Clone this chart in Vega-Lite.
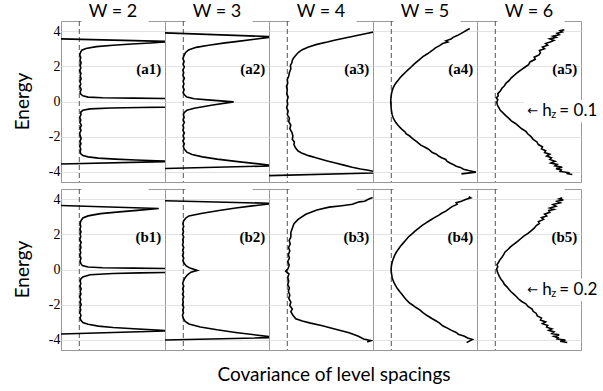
{
"$schema": "https://vega.github.io/schema/vega-lite/v6.json",
"background": "white",
"bounds": "flush",
"padding": {"left": 14, "top": 3, "right": 0, "bottom": 0},
"data": {"values": [
{"W":2,"h":0.1,"C":-0.5,"E":-3.57},{"W":2,"h":0.1,"C":5.3,"E":-3.41},{"W":2,"h":0.1,"C":4.6,"E":-3.37},{"W":2,"h":0.1,"C":3.6,"E":-3.33},{"W":2,"h":0.1,"C":2.6,"E":-3.28},{"W":2,"h":0.1,"C":1.8,"E":-3.22},{"W":2,"h":0.1,"C":1.3,"E":-3.15},{"W":2,"h":0.1,"C":1.05,"E":-3.07},{"W":2,"h":0.1,"C":0.95,"E":-2.98},{"W":2,"h":0.1,"C":0.92,"E":-2.85},{"W":2,"h":0.1,"C":0.95,"E":-2.7},{"W":2,"h":0.1,"C":0.9,"E":-2.55},{"W":2,"h":0.1,"C":0.96,"E":-2.4},{"W":2,"h":0.1,"C":0.91,"E":-2.25},{"W":2,"h":0.1,"C":0.97,"E":-2.1},{"W":2,"h":0.1,"C":0.92,"E":-1.95},{"W":2,"h":0.1,"C":0.9,"E":-1.8},{"W":2,"h":0.1,"C":0.96,"E":-1.65},{"W":2,"h":0.1,"C":0.92,"E":-1.5},{"W":2,"h":0.1,"C":0.98,"E":-1.35},{"W":2,"h":0.1,"C":0.91,"E":-1.2},{"W":2,"h":0.1,"C":0.95,"E":-1.05},{"W":2,"h":0.1,"C":0.9,"E":-0.9},{"W":2,"h":0.1,"C":0.96,"E":-0.75},{"W":2,"h":0.1,"C":0.95,"E":-0.6},{"W":2,"h":0.1,"C":1.05,"E":-0.5},{"W":2,"h":0.1,"C":1.4,"E":-0.42},{"W":2,"h":0.1,"C":2.4,"E":-0.37},{"W":2,"h":0.1,"C":3.8,"E":-0.34},{"W":2,"h":0.1,"C":5.0,"E":-0.32},{"W":2,"h":0.1,"C":9,"E":-0.1},{"W":2,"h":0.1,"C":5.0,"E":0.17},{"W":2,"h":0.1,"C":3.5,"E":0.19},{"W":2,"h":0.1,"C":2.0,"E":0.21},{"W":2,"h":0.1,"C":1.3,"E":0.25},{"W":2,"h":0.1,"C":1.05,"E":0.32},{"W":2,"h":0.1,"C":0.95,"E":0.42},{"W":2,"h":0.1,"C":0.92,"E":0.55},{"W":2,"h":0.1,"C":0.97,"E":0.7},{"W":2,"h":0.1,"C":0.9,"E":0.85},{"W":2,"h":0.1,"C":0.95,"E":1.0},{"W":2,"h":0.1,"C":0.91,"E":1.15},{"W":2,"h":0.1,"C":0.97,"E":1.3},{"W":2,"h":0.1,"C":0.92,"E":1.45},{"W":2,"h":0.1,"C":0.96,"E":1.6},{"W":2,"h":0.1,"C":0.9,"E":1.75},{"W":2,"h":0.1,"C":0.95,"E":1.9},{"W":2,"h":0.1,"C":0.92,"E":2.05},{"W":2,"h":0.1,"C":0.97,"E":2.2},{"W":2,"h":0.1,"C":0.91,"E":2.35},{"W":2,"h":0.1,"C":0.95,"E":2.5},{"W":2,"h":0.1,"C":0.9,"E":2.65},{"W":2,"h":0.1,"C":0.94,"E":2.8},{"W":2,"h":0.1,"C":1.0,"E":2.92},{"W":2,"h":0.1,"C":1.2,"E":3.02},{"W":2,"h":0.1,"C":1.7,"E":3.12},{"W":2,"h":0.1,"C":2.5,"E":3.2},{"W":2,"h":0.1,"C":3.4,"E":3.27},{"W":2,"h":0.1,"C":4.3,"E":3.33},{"W":2,"h":0.1,"C":5.3,"E":3.41},{"W":2,"h":0.1,"C":-0.5,"E":3.58},
{"W":3,"h":0.1,"C":-0.4,"E":-3.82},{"W":3,"h":0.1,"C":5.3,"E":-3.66},{"W":3,"h":0.1,"C":4.5,"E":-3.55},{"W":3,"h":0.1,"C":3.5,"E":-3.42},{"W":3,"h":0.1,"C":2.5,"E":-3.28},{"W":3,"h":0.1,"C":1.8,"E":-3.15},{"W":3,"h":0.1,"C":1.3,"E":-3.02},{"W":3,"h":0.1,"C":1.05,"E":-2.88},{"W":3,"h":0.1,"C":0.92,"E":-2.7},{"W":3,"h":0.1,"C":0.88,"E":-2.55},{"W":3,"h":0.1,"C":0.93,"E":-2.4},{"W":3,"h":0.1,"C":0.86,"E":-2.25},{"W":3,"h":0.1,"C":0.92,"E":-2.1},{"W":3,"h":0.1,"C":0.87,"E":-1.95},{"W":3,"h":0.1,"C":0.93,"E":-1.8},{"W":3,"h":0.1,"C":0.86,"E":-1.65},{"W":3,"h":0.1,"C":0.9,"E":-1.5},{"W":3,"h":0.1,"C":0.86,"E":-1.35},{"W":3,"h":0.1,"C":0.93,"E":-1.2},{"W":3,"h":0.1,"C":0.87,"E":-1.05},{"W":3,"h":0.1,"C":0.92,"E":-0.9},{"W":3,"h":0.1,"C":0.88,"E":-0.75},{"W":3,"h":0.1,"C":0.93,"E":-0.62},{"W":3,"h":0.1,"C":1.05,"E":-0.5},{"W":3,"h":0.1,"C":1.4,"E":-0.38},{"W":3,"h":0.1,"C":2.3,"E":-0.2},{"W":3,"h":0.1,"C":3.3,"E":-0.02},{"W":3,"h":0.1,"C":2.2,"E":0.08},{"W":3,"h":0.1,"C":1.4,"E":0.16},{"W":3,"h":0.1,"C":1.05,"E":0.25},{"W":3,"h":0.1,"C":0.93,"E":0.38},{"W":3,"h":0.1,"C":0.87,"E":0.52},{"W":3,"h":0.1,"C":0.92,"E":0.68},{"W":3,"h":0.1,"C":0.86,"E":0.84},{"W":3,"h":0.1,"C":0.91,"E":1.0},{"W":3,"h":0.1,"C":0.87,"E":1.16},{"W":3,"h":0.1,"C":0.93,"E":1.32},{"W":3,"h":0.1,"C":0.86,"E":1.48},{"W":3,"h":0.1,"C":0.9,"E":1.64},{"W":3,"h":0.1,"C":0.86,"E":1.8},{"W":3,"h":0.1,"C":0.93,"E":1.96},{"W":3,"h":0.1,"C":0.87,"E":2.12},{"W":3,"h":0.1,"C":0.92,"E":2.28},{"W":3,"h":0.1,"C":0.86,"E":2.44},{"W":3,"h":0.1,"C":0.91,"E":2.6},{"W":3,"h":0.1,"C":0.98,"E":2.78},{"W":3,"h":0.1,"C":1.13,"E":2.93},{"W":3,"h":0.1,"C":1.5,"E":3.08},{"W":3,"h":0.1,"C":2.1,"E":3.2},{"W":3,"h":0.1,"C":2.8,"E":3.32},{"W":3,"h":0.1,"C":3.5,"E":3.42},{"W":3,"h":0.1,"C":4.3,"E":3.54},{"W":3,"h":0.1,"C":5.0,"E":3.65},{"W":3,"h":0.1,"C":5.3,"E":3.68},{"W":3,"h":0.1,"C":-0.4,"E":3.92},
{"W":4,"h":0.1,"C":-0.4,"E":-4.23},{"W":4,"h":0.1,"C":5.3,"E":-4.06},{"W":4,"h":0.1,"C":4.95,"E":-3.95},{"W":4,"h":0.1,"C":4.7,"E":-3.9},{"W":4,"h":0.1,"C":4.4,"E":-3.84},{"W":4,"h":0.1,"C":4.0,"E":-3.74},{"W":4,"h":0.1,"C":3.6,"E":-3.62},{"W":4,"h":0.1,"C":3.2,"E":-3.5},{"W":4,"h":0.1,"C":2.8,"E":-3.38},{"W":4,"h":0.1,"C":2.3,"E":-3.22},{"W":4,"h":0.1,"C":1.9,"E":-3.08},{"W":4,"h":0.1,"C":1.6,"E":-2.95},{"W":4,"h":0.1,"C":1.4,"E":-2.82},{"W":4,"h":0.1,"C":1.28,"E":-2.65},{"W":4,"h":0.1,"C":1.2,"E":-2.45},{"W":4,"h":0.1,"C":1.22,"E":-2.3},{"W":4,"h":0.1,"C":1.12,"E":-2.15},{"W":4,"h":0.1,"C":1.15,"E":-1.95},{"W":4,"h":0.1,"C":1.1,"E":-1.75},{"W":4,"h":0.1,"C":1.0,"E":-1.55},{"W":4,"h":0.1,"C":1.05,"E":-1.35},{"W":4,"h":0.1,"C":0.95,"E":-1.15},{"W":4,"h":0.1,"C":0.98,"E":-0.95},{"W":4,"h":0.1,"C":0.88,"E":-0.75},{"W":4,"h":0.1,"C":0.92,"E":-0.55},{"W":4,"h":0.1,"C":0.85,"E":-0.35},{"W":4,"h":0.1,"C":0.9,"E":-0.15},{"W":4,"h":0.1,"C":0.87,"E":0.05},{"W":4,"h":0.1,"C":0.92,"E":0.25},{"W":4,"h":0.1,"C":0.85,"E":0.45},{"W":4,"h":0.1,"C":0.88,"E":0.65},{"W":4,"h":0.1,"C":0.84,"E":0.85},{"W":4,"h":0.1,"C":0.9,"E":1.05},{"W":4,"h":0.1,"C":0.88,"E":1.25},{"W":4,"h":0.1,"C":0.95,"E":1.45},{"W":4,"h":0.1,"C":0.98,"E":1.65},{"W":4,"h":0.1,"C":1.05,"E":1.85},{"W":4,"h":0.1,"C":1.03,"E":2.05},{"W":4,"h":0.1,"C":1.1,"E":2.2},{"W":4,"h":0.1,"C":1.12,"E":2.35},{"W":4,"h":0.1,"C":1.2,"E":2.5},{"W":4,"h":0.1,"C":1.3,"E":2.65},{"W":4,"h":0.1,"C":1.42,"E":2.8},{"W":4,"h":0.1,"C":1.6,"E":2.95},{"W":4,"h":0.1,"C":1.9,"E":3.1},{"W":4,"h":0.1,"C":2.3,"E":3.25},{"W":4,"h":0.1,"C":2.8,"E":3.38},{"W":4,"h":0.1,"C":3.2,"E":3.5},{"W":4,"h":0.1,"C":3.6,"E":3.6},{"W":4,"h":0.1,"C":4.0,"E":3.7},{"W":4,"h":0.1,"C":4.4,"E":3.8},{"W":4,"h":0.1,"C":4.8,"E":3.9},{"W":4,"h":0.1,"C":5.0,"E":3.95},
{"W":5,"h":0.1,"C":4.25,"E":-4.12},{"W":5,"h":0.1,"C":4.95,"E":-4.02},{"W":5,"h":0.1,"C":4.6,"E":-3.93},{"W":5,"h":0.1,"C":4.35,"E":-3.85},{"W":5,"h":0.1,"C":4.2,"E":-3.75},{"W":5,"h":0.1,"C":4.0,"E":-3.68},{"W":5,"h":0.1,"C":3.85,"E":-3.58},{"W":5,"h":0.1,"C":3.7,"E":-3.5},{"W":5,"h":0.1,"C":3.55,"E":-3.4},{"W":5,"h":0.1,"C":3.5,"E":-3.3},{"W":5,"h":0.1,"C":3.3,"E":-3.2},{"W":5,"h":0.1,"C":3.15,"E":-3.1},{"W":5,"h":0.1,"C":3.05,"E":-3.0},{"W":5,"h":0.1,"C":2.85,"E":-2.9},{"W":5,"h":0.1,"C":2.75,"E":-2.8},{"W":5,"h":0.1,"C":2.65,"E":-2.7},{"W":5,"h":0.1,"C":2.5,"E":-2.6},{"W":5,"h":0.1,"C":2.3,"E":-2.48},{"W":5,"h":0.1,"C":2.2,"E":-2.38},{"W":5,"h":0.1,"C":2.1,"E":-2.28},{"W":5,"h":0.1,"C":1.95,"E":-2.15},{"W":5,"h":0.1,"C":1.85,"E":-2.05},{"W":5,"h":0.1,"C":1.75,"E":-1.95},{"W":5,"h":0.1,"C":1.6,"E":-1.85},{"W":5,"h":0.1,"C":1.55,"E":-1.75},{"W":5,"h":0.1,"C":1.42,"E":-1.62},{"W":5,"h":0.1,"C":1.32,"E":-1.5},{"W":5,"h":0.1,"C":1.2,"E":-1.35},{"W":5,"h":0.1,"C":1.1,"E":-1.2},{"W":5,"h":0.1,"C":1.02,"E":-1.05},{"W":5,"h":0.1,"C":0.96,"E":-0.9},{"W":5,"h":0.1,"C":0.92,"E":-0.75},{"W":5,"h":0.1,"C":0.9,"E":-0.6},{"W":5,"h":0.1,"C":0.88,"E":-0.45},{"W":5,"h":0.1,"C":0.87,"E":-0.3},{"W":5,"h":0.1,"C":0.86,"E":-0.15},{"W":5,"h":0.1,"C":0.85,"E":0.0},{"W":5,"h":0.1,"C":0.86,"E":0.15},{"W":5,"h":0.1,"C":0.87,"E":0.3},{"W":5,"h":0.1,"C":0.89,"E":0.45},{"W":5,"h":0.1,"C":0.92,"E":0.6},{"W":5,"h":0.1,"C":0.96,"E":0.75},{"W":5,"h":0.1,"C":1.02,"E":0.9},{"W":5,"h":0.1,"C":1.1,"E":1.05},{"W":5,"h":0.1,"C":1.2,"E":1.2},{"W":5,"h":0.1,"C":1.3,"E":1.35},{"W":5,"h":0.1,"C":1.42,"E":1.5},{"W":5,"h":0.1,"C":1.55,"E":1.65},{"W":5,"h":0.1,"C":1.68,"E":1.8},{"W":5,"h":0.1,"C":1.82,"E":1.95},{"W":5,"h":0.1,"C":1.95,"E":2.1},{"W":5,"h":0.1,"C":2.1,"E":2.25},{"W":5,"h":0.1,"C":2.25,"E":2.4},{"W":5,"h":0.1,"C":2.4,"E":2.55},{"W":5,"h":0.1,"C":2.6,"E":2.7},{"W":5,"h":0.1,"C":2.75,"E":2.82},{"W":5,"h":0.1,"C":2.9,"E":2.95},{"W":5,"h":0.1,"C":3.0,"E":3.05},{"W":5,"h":0.1,"C":3.2,"E":3.18},{"W":5,"h":0.1,"C":3.35,"E":3.3},{"W":5,"h":0.1,"C":3.6,"E":3.38},{"W":5,"h":0.1,"C":3.5,"E":3.45},{"W":5,"h":0.1,"C":3.75,"E":3.55},{"W":5,"h":0.1,"C":3.85,"E":3.65},{"W":5,"h":0.1,"C":4.05,"E":3.75},{"W":5,"h":0.1,"C":4.2,"E":3.85},{"W":5,"h":0.1,"C":4.35,"E":3.95},{"W":5,"h":0.1,"C":4.5,"E":4.05},{"W":5,"h":0.1,"C":4.65,"E":4.15},
{"W":6,"h":0.1,"C":4.58,"E":-4.15},{"W":6,"h":0.1,"C":4.3,"E":-4.1},{"W":6,"h":0.1,"C":4.45,"E":-4.05},{"W":6,"h":0.1,"C":4.0,"E":-3.98},{"W":6,"h":0.1,"C":4.05,"E":-3.9},{"W":6,"h":0.1,"C":3.8,"E":-3.82},{"W":6,"h":0.1,"C":4.1,"E":-3.74},{"W":6,"h":0.1,"C":3.75,"E":-3.66},{"W":6,"h":0.1,"C":3.85,"E":-3.58},{"W":6,"h":0.1,"C":3.55,"E":-3.5},{"W":6,"h":0.1,"C":3.75,"E":-3.4},{"W":6,"h":0.1,"C":3.5,"E":-3.3},{"W":6,"h":0.1,"C":3.58,"E":-3.2},{"W":6,"h":0.1,"C":3.35,"E":-3.1},{"W":6,"h":0.1,"C":3.5,"E":-3.0},{"W":6,"h":0.1,"C":3.25,"E":-2.9},{"W":6,"h":0.1,"C":3.3,"E":-2.8},{"W":6,"h":0.1,"C":3.1,"E":-2.7},{"W":6,"h":0.1,"C":3.15,"E":-2.58},{"W":6,"h":0.1,"C":2.95,"E":-2.45},{"W":6,"h":0.1,"C":2.88,"E":-2.3},{"W":6,"h":0.1,"C":2.7,"E":-2.15},{"W":6,"h":0.1,"C":2.6,"E":-2.0},{"W":6,"h":0.1,"C":2.45,"E":-1.85},{"W":6,"h":0.1,"C":2.35,"E":-1.7},{"W":6,"h":0.1,"C":2.15,"E":-1.55},{"W":6,"h":0.1,"C":2.0,"E":-1.4},{"W":6,"h":0.1,"C":1.85,"E":-1.25},{"W":6,"h":0.1,"C":1.65,"E":-1.1},{"W":6,"h":0.1,"C":1.52,"E":-0.95},{"W":6,"h":0.1,"C":1.38,"E":-0.8},{"W":6,"h":0.1,"C":1.25,"E":-0.65},{"W":6,"h":0.1,"C":1.12,"E":-0.5},{"W":6,"h":0.1,"C":1.05,"E":-0.35},{"W":6,"h":0.1,"C":0.98,"E":-0.2},{"W":6,"h":0.1,"C":0.95,"E":-0.05},{"W":6,"h":0.1,"C":1.0,"E":0.1},{"W":6,"h":0.1,"C":0.93,"E":0.2},{"W":6,"h":0.1,"C":1.02,"E":0.32},{"W":6,"h":0.1,"C":1.0,"E":0.45},{"W":6,"h":0.1,"C":1.12,"E":0.6},{"W":6,"h":0.1,"C":1.2,"E":0.75},{"W":6,"h":0.1,"C":1.32,"E":0.9},{"W":6,"h":0.1,"C":1.4,"E":1.05},{"W":6,"h":0.1,"C":1.55,"E":1.2},{"W":6,"h":0.1,"C":1.65,"E":1.35},{"W":6,"h":0.1,"C":1.8,"E":1.5},{"W":6,"h":0.1,"C":1.95,"E":1.65},{"W":6,"h":0.1,"C":2.12,"E":1.8},{"W":6,"h":0.1,"C":2.3,"E":1.95},{"W":6,"h":0.1,"C":2.48,"E":2.1},{"W":6,"h":0.1,"C":2.55,"E":2.25},{"W":6,"h":0.1,"C":2.8,"E":2.4},{"W":6,"h":0.1,"C":2.75,"E":2.52},{"W":6,"h":0.1,"C":2.98,"E":2.65},{"W":6,"h":0.1,"C":3.05,"E":2.78},{"W":6,"h":0.1,"C":3.0,"E":2.9},{"W":6,"h":0.1,"C":3.25,"E":3.0},{"W":6,"h":0.1,"C":3.15,"E":3.1},{"W":6,"h":0.1,"C":3.4,"E":3.2},{"W":6,"h":0.1,"C":3.3,"E":3.3},{"W":6,"h":0.1,"C":3.55,"E":3.4},{"W":6,"h":0.1,"C":3.7,"E":3.48},{"W":6,"h":0.1,"C":3.5,"E":3.56},{"W":6,"h":0.1,"C":3.8,"E":3.65},{"W":6,"h":0.1,"C":3.65,"E":3.72},{"W":6,"h":0.1,"C":3.95,"E":3.8},{"W":6,"h":0.1,"C":3.85,"E":3.88},{"W":6,"h":0.1,"C":4.1,"E":3.96},{"W":6,"h":0.1,"C":4.0,"E":4.03},{"W":6,"h":0.1,"C":4.2,"E":4.08},
{"W":2,"h":0.2,"C":-0.4,"E":-3.68},{"W":2,"h":0.2,"C":5.3,"E":-3.49},{"W":2,"h":0.2,"C":4.6,"E":-3.45},{"W":2,"h":0.2,"C":3.5,"E":-3.37},{"W":2,"h":0.2,"C":2.5,"E":-3.3},{"W":2,"h":0.2,"C":1.8,"E":-3.22},{"W":2,"h":0.2,"C":1.3,"E":-3.12},{"W":2,"h":0.2,"C":1.05,"E":-3.02},{"W":2,"h":0.2,"C":0.95,"E":-2.88},{"W":2,"h":0.2,"C":0.92,"E":-2.75},{"W":2,"h":0.2,"C":0.96,"E":-2.6},{"W":2,"h":0.2,"C":0.9,"E":-2.45},{"W":2,"h":0.2,"C":0.95,"E":-2.3},{"W":2,"h":0.2,"C":0.91,"E":-2.15},{"W":2,"h":0.2,"C":0.97,"E":-2.0},{"W":2,"h":0.2,"C":0.92,"E":-1.85},{"W":2,"h":0.2,"C":0.95,"E":-1.7},{"W":2,"h":0.2,"C":0.9,"E":-1.55},{"W":2,"h":0.2,"C":0.96,"E":-1.4},{"W":2,"h":0.2,"C":0.92,"E":-1.25},{"W":2,"h":0.2,"C":0.97,"E":-1.1},{"W":2,"h":0.2,"C":0.91,"E":-0.95},{"W":2,"h":0.2,"C":0.95,"E":-0.8},{"W":2,"h":0.2,"C":0.92,"E":-0.65},{"W":2,"h":0.2,"C":0.96,"E":-0.53},{"W":2,"h":0.2,"C":1.05,"E":-0.42},{"W":2,"h":0.2,"C":1.4,"E":-0.3},{"W":2,"h":0.2,"C":2.5,"E":-0.23},{"W":2,"h":0.2,"C":3.8,"E":-0.19},{"W":2,"h":0.2,"C":5.0,"E":-0.17},{"W":2,"h":0.2,"C":9,"E":-0.05},{"W":2,"h":0.2,"C":5.0,"E":0.06},{"W":2,"h":0.2,"C":3.5,"E":0.08},{"W":2,"h":0.2,"C":2.0,"E":0.1},{"W":2,"h":0.2,"C":1.3,"E":0.14},{"W":2,"h":0.2,"C":1.03,"E":0.22},{"W":2,"h":0.2,"C":0.95,"E":0.35},{"W":2,"h":0.2,"C":0.92,"E":0.5},{"W":2,"h":0.2,"C":0.96,"E":0.65},{"W":2,"h":0.2,"C":0.9,"E":0.8},{"W":2,"h":0.2,"C":0.95,"E":0.95},{"W":2,"h":0.2,"C":0.91,"E":1.1},{"W":2,"h":0.2,"C":0.96,"E":1.25},{"W":2,"h":0.2,"C":0.92,"E":1.4},{"W":2,"h":0.2,"C":0.97,"E":1.55},{"W":2,"h":0.2,"C":0.9,"E":1.7},{"W":2,"h":0.2,"C":0.95,"E":1.85},{"W":2,"h":0.2,"C":0.92,"E":2.0},{"W":2,"h":0.2,"C":0.96,"E":2.15},{"W":2,"h":0.2,"C":0.91,"E":2.3},{"W":2,"h":0.2,"C":0.95,"E":2.45},{"W":2,"h":0.2,"C":0.92,"E":2.6},{"W":2,"h":0.2,"C":0.95,"E":2.75},{"W":2,"h":0.2,"C":1.05,"E":2.93},{"W":2,"h":0.2,"C":1.3,"E":3.05},{"W":2,"h":0.2,"C":1.9,"E":3.18},{"W":2,"h":0.2,"C":2.8,"E":3.28},{"W":2,"h":0.2,"C":3.8,"E":3.38},{"W":2,"h":0.2,"C":4.7,"E":3.47},{"W":2,"h":0.2,"C":-0.4,"E":3.66},
{"W":3,"h":0.2,"C":-0.3,"E":-4.02},{"W":3,"h":0.2,"C":5.3,"E":-3.87},{"W":3,"h":0.2,"C":5.0,"E":-3.82},{"W":3,"h":0.2,"C":4.2,"E":-3.7},{"W":3,"h":0.2,"C":3.4,"E":-3.58},{"W":3,"h":0.2,"C":2.5,"E":-3.43},{"W":3,"h":0.2,"C":1.7,"E":-3.27},{"W":3,"h":0.2,"C":1.15,"E":-3.1},{"W":3,"h":0.2,"C":0.97,"E":-2.95},{"W":3,"h":0.2,"C":0.88,"E":-2.78},{"W":3,"h":0.2,"C":0.84,"E":-2.6},{"W":3,"h":0.2,"C":0.89,"E":-2.45},{"W":3,"h":0.2,"C":0.85,"E":-2.3},{"W":3,"h":0.2,"C":0.9,"E":-2.15},{"W":3,"h":0.2,"C":0.84,"E":-2.0},{"W":3,"h":0.2,"C":0.88,"E":-1.85},{"W":3,"h":0.2,"C":0.85,"E":-1.7},{"W":3,"h":0.2,"C":0.9,"E":-1.55},{"W":3,"h":0.2,"C":0.84,"E":-1.4},{"W":3,"h":0.2,"C":0.89,"E":-1.25},{"W":3,"h":0.2,"C":0.85,"E":-1.1},{"W":3,"h":0.2,"C":0.9,"E":-0.95},{"W":3,"h":0.2,"C":0.85,"E":-0.8},{"W":3,"h":0.2,"C":0.88,"E":-0.68},{"W":3,"h":0.2,"C":0.95,"E":-0.5},{"W":3,"h":0.2,"C":1.08,"E":-0.3},{"W":3,"h":0.2,"C":1.25,"E":-0.15},{"W":3,"h":0.2,"C":1.55,"E":-0.05},{"W":3,"h":0.2,"C":1.2,"E":0.08},{"W":3,"h":0.2,"C":1.02,"E":0.2},{"W":3,"h":0.2,"C":0.92,"E":0.35},{"W":3,"h":0.2,"C":0.86,"E":0.5},{"W":3,"h":0.2,"C":0.9,"E":0.65},{"W":3,"h":0.2,"C":0.84,"E":0.8},{"W":3,"h":0.2,"C":0.89,"E":0.95},{"W":3,"h":0.2,"C":0.85,"E":1.1},{"W":3,"h":0.2,"C":0.9,"E":1.25},{"W":3,"h":0.2,"C":0.84,"E":1.4},{"W":3,"h":0.2,"C":0.88,"E":1.55},{"W":3,"h":0.2,"C":0.85,"E":1.7},{"W":3,"h":0.2,"C":0.9,"E":1.85},{"W":3,"h":0.2,"C":0.84,"E":2.0},{"W":3,"h":0.2,"C":0.89,"E":2.15},{"W":3,"h":0.2,"C":0.85,"E":2.3},{"W":3,"h":0.2,"C":0.9,"E":2.45},{"W":3,"h":0.2,"C":0.86,"E":2.6},{"W":3,"h":0.2,"C":0.9,"E":2.78},{"W":3,"h":0.2,"C":1.0,"E":2.93},{"W":3,"h":0.2,"C":1.15,"E":3.05},{"W":3,"h":0.2,"C":1.8,"E":3.2},{"W":3,"h":0.2,"C":2.6,"E":3.36},{"W":3,"h":0.2,"C":3.4,"E":3.5},{"W":3,"h":0.2,"C":4.2,"E":3.62},{"W":3,"h":0.2,"C":5.0,"E":3.73},{"W":3,"h":0.2,"C":5.3,"E":3.76},{"W":3,"h":0.2,"C":-0.3,"E":3.92},
{"W":4,"h":0.2,"C":4.72,"E":-4.12},{"W":4,"h":0.2,"C":4.9,"E":-4.05},{"W":4,"h":0.2,"C":4.55,"E":-3.95},{"W":4,"h":0.2,"C":4.3,"E":-3.8},{"W":4,"h":0.2,"C":3.85,"E":-3.6},{"W":4,"h":0.2,"C":3.2,"E":-3.4},{"W":4,"h":0.2,"C":2.57,"E":-3.2},{"W":4,"h":0.2,"C":2.0,"E":-3.05},{"W":4,"h":0.2,"C":1.6,"E":-2.93},{"W":4,"h":0.2,"C":1.29,"E":-2.8},{"W":4,"h":0.2,"C":1.15,"E":-2.6},{"W":4,"h":0.2,"C":1.05,"E":-2.4},{"W":4,"h":0.2,"C":1.12,"E":-2.25},{"W":4,"h":0.2,"C":1.0,"E":-2.05},{"W":4,"h":0.2,"C":1.05,"E":-1.85},{"W":4,"h":0.2,"C":0.95,"E":-1.65},{"W":4,"h":0.2,"C":1.0,"E":-1.45},{"W":4,"h":0.2,"C":0.93,"E":-1.25},{"W":4,"h":0.2,"C":0.98,"E":-1.05},{"W":4,"h":0.2,"C":0.9,"E":-0.85},{"W":4,"h":0.2,"C":0.95,"E":-0.65},{"W":4,"h":0.2,"C":0.9,"E":-0.45},{"W":4,"h":0.2,"C":0.96,"E":-0.25},{"W":4,"h":0.2,"C":0.8,"E":-0.1},{"W":4,"h":0.2,"C":0.92,"E":0.05},{"W":4,"h":0.2,"C":0.97,"E":0.25},{"W":4,"h":0.2,"C":0.9,"E":0.45},{"W":4,"h":0.2,"C":0.98,"E":0.65},{"W":4,"h":0.2,"C":0.93,"E":0.85},{"W":4,"h":0.2,"C":1.0,"E":1.05},{"W":4,"h":0.2,"C":0.94,"E":1.25},{"W":4,"h":0.2,"C":1.02,"E":1.45},{"W":4,"h":0.2,"C":0.97,"E":1.65},{"W":4,"h":0.2,"C":1.05,"E":1.85},{"W":4,"h":0.2,"C":1.05,"E":2.1},{"W":4,"h":0.2,"C":1.12,"E":2.35},{"W":4,"h":0.2,"C":1.2,"E":2.6},{"W":4,"h":0.2,"C":1.4,"E":2.85},{"W":4,"h":0.2,"C":1.77,"E":3.14},{"W":4,"h":0.2,"C":2.3,"E":3.38},{"W":4,"h":0.2,"C":2.89,"E":3.55},{"W":4,"h":0.2,"C":3.5,"E":3.63},{"W":4,"h":0.2,"C":4.01,"E":3.71},{"W":4,"h":0.2,"C":4.34,"E":3.85},{"W":4,"h":0.2,"C":4.6,"E":3.88},{"W":4,"h":0.2,"C":4.75,"E":3.98},{"W":4,"h":0.2,"C":4.98,"E":4.1},
{"W":5,"h":0.2,"C":4.5,"E":-4.16},{"W":5,"h":0.2,"C":4.78,"E":-3.98},{"W":5,"h":0.2,"C":4.55,"E":-3.9},{"W":5,"h":0.2,"C":4.4,"E":-3.8},{"W":5,"h":0.2,"C":4.1,"E":-3.68},{"W":5,"h":0.2,"C":4.0,"E":-3.58},{"W":5,"h":0.2,"C":3.75,"E":-3.45},{"W":5,"h":0.2,"C":3.6,"E":-3.35},{"W":5,"h":0.2,"C":3.35,"E":-3.2},{"W":5,"h":0.2,"C":3.2,"E":-3.05},{"W":5,"h":0.2,"C":3.0,"E":-2.9},{"W":5,"h":0.2,"C":2.85,"E":-2.8},{"W":5,"h":0.2,"C":2.6,"E":-2.62},{"W":5,"h":0.2,"C":2.4,"E":-2.45},{"W":5,"h":0.2,"C":2.25,"E":-2.3},{"W":5,"h":0.2,"C":2.05,"E":-2.15},{"W":5,"h":0.2,"C":1.9,"E":-2.02},{"W":5,"h":0.2,"C":1.75,"E":-1.9},{"W":5,"h":0.2,"C":1.6,"E":-1.72},{"W":5,"h":0.2,"C":1.5,"E":-1.58},{"W":5,"h":0.2,"C":1.4,"E":-1.42},{"W":5,"h":0.2,"C":1.3,"E":-1.28},{"W":5,"h":0.2,"C":1.18,"E":-1.1},{"W":5,"h":0.2,"C":1.1,"E":-0.95},{"W":5,"h":0.2,"C":1.02,"E":-0.78},{"W":5,"h":0.2,"C":0.96,"E":-0.6},{"W":5,"h":0.2,"C":0.92,"E":-0.45},{"W":5,"h":0.2,"C":0.9,"E":-0.3},{"W":5,"h":0.2,"C":0.88,"E":-0.15},{"W":5,"h":0.2,"C":0.87,"E":0.0},{"W":5,"h":0.2,"C":0.88,"E":0.15},{"W":5,"h":0.2,"C":0.9,"E":0.3},{"W":5,"h":0.2,"C":0.93,"E":0.45},{"W":5,"h":0.2,"C":0.98,"E":0.62},{"W":5,"h":0.2,"C":1.04,"E":0.8},{"W":5,"h":0.2,"C":1.12,"E":0.98},{"W":5,"h":0.2,"C":1.22,"E":1.15},{"W":5,"h":0.2,"C":1.32,"E":1.32},{"W":5,"h":0.2,"C":1.45,"E":1.5},{"W":5,"h":0.2,"C":1.58,"E":1.68},{"W":5,"h":0.2,"C":1.7,"E":1.85},{"W":5,"h":0.2,"C":1.85,"E":2.0},{"W":5,"h":0.2,"C":2.02,"E":2.18},{"W":5,"h":0.2,"C":2.2,"E":2.35},{"W":5,"h":0.2,"C":2.35,"E":2.5},{"W":5,"h":0.2,"C":2.55,"E":2.65},{"W":5,"h":0.2,"C":2.75,"E":2.8},{"W":5,"h":0.2,"C":2.95,"E":2.95},{"W":5,"h":0.2,"C":3.15,"E":3.08},{"W":5,"h":0.2,"C":3.3,"E":3.2},{"W":5,"h":0.2,"C":3.5,"E":3.32},{"W":5,"h":0.2,"C":3.65,"E":3.45},{"W":5,"h":0.2,"C":3.8,"E":3.58},{"W":5,"h":0.2,"C":4.05,"E":3.72},{"W":5,"h":0.2,"C":4.0,"E":3.8},{"W":5,"h":0.2,"C":4.25,"E":3.88},{"W":5,"h":0.2,"C":4.45,"E":3.98},{"W":5,"h":0.2,"C":4.7,"E":4.08},{"W":5,"h":0.2,"C":4.6,"E":4.14},
{"W":6,"h":0.2,"C":4.34,"E":-4.15},{"W":6,"h":0.2,"C":4.0,"E":-4.08},{"W":6,"h":0.2,"C":4.25,"E":-4.02},{"W":6,"h":0.2,"C":3.85,"E":-3.95},{"W":6,"h":0.2,"C":3.9,"E":-3.88},{"W":6,"h":0.2,"C":3.7,"E":-3.8},{"W":6,"h":0.2,"C":3.95,"E":-3.72},{"W":6,"h":0.2,"C":3.6,"E":-3.64},{"W":6,"h":0.2,"C":3.7,"E":-3.55},{"W":6,"h":0.2,"C":3.45,"E":-3.46},{"W":6,"h":0.2,"C":3.6,"E":-3.38},{"W":6,"h":0.2,"C":3.35,"E":-3.28},{"W":6,"h":0.2,"C":3.4,"E":-3.18},{"W":6,"h":0.2,"C":3.15,"E":-3.08},{"W":6,"h":0.2,"C":3.3,"E":-2.98},{"W":6,"h":0.2,"C":3.05,"E":-2.88},{"W":6,"h":0.2,"C":3.1,"E":-2.76},{"W":6,"h":0.2,"C":2.9,"E":-2.64},{"W":6,"h":0.2,"C":2.85,"E":-2.5},{"W":6,"h":0.2,"C":2.7,"E":-2.38},{"W":6,"h":0.2,"C":2.65,"E":-2.25},{"W":6,"h":0.2,"C":2.45,"E":-2.1},{"W":6,"h":0.2,"C":2.35,"E":-1.95},{"W":6,"h":0.2,"C":2.15,"E":-1.82},{"W":6,"h":0.2,"C":2.0,"E":-1.68},{"W":6,"h":0.2,"C":1.9,"E":-1.55},{"W":6,"h":0.2,"C":1.78,"E":-1.42},{"W":6,"h":0.2,"C":1.65,"E":-1.28},{"W":6,"h":0.2,"C":1.55,"E":-1.15},{"W":6,"h":0.2,"C":1.45,"E":-1.0},{"W":6,"h":0.2,"C":1.32,"E":-0.85},{"W":6,"h":0.2,"C":1.25,"E":-0.7},{"W":6,"h":0.2,"C":1.15,"E":-0.55},{"W":6,"h":0.2,"C":1.08,"E":-0.4},{"W":6,"h":0.2,"C":1.02,"E":-0.25},{"W":6,"h":0.2,"C":0.97,"E":-0.1},{"W":6,"h":0.2,"C":0.95,"E":0.05},{"W":6,"h":0.2,"C":1.0,"E":0.15},{"W":6,"h":0.2,"C":0.96,"E":0.28},{"W":6,"h":0.2,"C":1.03,"E":0.4},{"W":6,"h":0.2,"C":1.1,"E":0.55},{"W":6,"h":0.2,"C":1.2,"E":0.7},{"W":6,"h":0.2,"C":1.28,"E":0.85},{"W":6,"h":0.2,"C":1.35,"E":1.0},{"W":6,"h":0.2,"C":1.5,"E":1.15},{"W":6,"h":0.2,"C":1.62,"E":1.3},{"W":6,"h":0.2,"C":1.78,"E":1.45},{"W":6,"h":0.2,"C":1.95,"E":1.6},{"W":6,"h":0.2,"C":2.1,"E":1.75},{"W":6,"h":0.2,"C":2.25,"E":1.9},{"W":6,"h":0.2,"C":2.45,"E":2.05},{"W":6,"h":0.2,"C":2.6,"E":2.2},{"W":6,"h":0.2,"C":2.75,"E":2.35},{"W":6,"h":0.2,"C":2.85,"E":2.5},{"W":6,"h":0.2,"C":3.0,"E":2.62},{"W":6,"h":0.2,"C":2.95,"E":2.72},{"W":6,"h":0.2,"C":3.2,"E":2.85},{"W":6,"h":0.2,"C":3.1,"E":2.95},{"W":6,"h":0.2,"C":3.35,"E":3.05},{"W":6,"h":0.2,"C":3.25,"E":3.15},{"W":6,"h":0.2,"C":3.5,"E":3.25},{"W":6,"h":0.2,"C":3.45,"E":3.35},{"W":6,"h":0.2,"C":3.7,"E":3.42},{"W":6,"h":0.2,"C":3.5,"E":3.5},{"W":6,"h":0.2,"C":3.8,"E":3.6},{"W":6,"h":0.2,"C":3.65,"E":3.7},{"W":6,"h":0.2,"C":4.0,"E":3.8},{"W":6,"h":0.2,"C":3.85,"E":3.88},{"W":6,"h":0.2,"C":4.15,"E":3.95},{"W":6,"h":0.2,"C":3.95,"E":4.02},{"W":6,"h":0.2,"C":4.1,"E":4.08},
{"W":2,"h":0.1,"C":4.82,"E":1.85,"lab":"(a1)"},{"W":3,"h":0.1,"C":4.82,"E":1.85,"lab":"(a2)"},{"W":4,"h":0.1,"C":4.82,"E":1.85,"lab":"(a3)"},{"W":5,"h":0.1,"C":4.82,"E":1.85,"lab":"(a4)"},{"W":6,"h":0.1,"C":4.82,"E":1.85,"lab":"(a5)"},
{"W":2,"h":0.2,"C":4.82,"E":1.85,"lab":"(b1)"},{"W":3,"h":0.2,"C":4.82,"E":1.85,"lab":"(b2)"},{"W":4,"h":0.2,"C":4.82,"E":1.85,"lab":"(b3)"},{"W":5,"h":0.2,"C":4.82,"E":1.85,"lab":"(b4)"},{"W":6,"h":0.2,"C":4.82,"E":1.85,"lab":"(b5)"},
{"W":6,"h":0.1,"C":2.42,"E":-0.55,"ann":"= 0.1"},{"W":6,"h":0.2,"C":2.42,"E":-1.15,"ann":"= 0.2"}
]},
"facet": {
  "row": {"field": "h", "type": "ordinal", "title": null,
    "header": {"labelExpr": "'Energy'", "labelAngle": -90, "labelFont": "Lato", "labelFontSize": 19, "labelColor": "black", "labelPadding": 6}},
  "column": {"field": "W", "type": "ordinal", "title": "Covariance of level spacings",
    "header": {"labelExpr": "'W = ' + datum.value", "labelOrient": "top", "titleOrient": "bottom", "labelFont": "Lato", "labelFontSize": 18, "labelColor": "black", "labelPadding": 0, "titleFont": "Lato", "titleFontSize": 19, "titleFontWeight": "normal", "titleColor": "black", "titlePadding": 6}}
},
"spacing": {"row": 7, "column": 0},
"spec": {
  "width": 104,
  "height": 161,
  "layer": [
    {"transform": [{"filter": "datum.lab"}],
     "mark": {"type": "rule", "strokeDash": [5, 3], "color": "#555555", "strokeWidth": 1},
     "encoding": {"x": {"datum": 0.88, "type": "quantitative",
        "scale": {"domain": [0, 5], "nice": false, "zero": false},
        "axis": {"values": [1, 2, 3, 4], "labels": false, "ticks": false, "domain": false, "title": null, "gridColor": "#e2e2e2"}}}},
    {"transform": [{"filter": "!datum.lab && !datum.ann"}],
     "mark": {"type": "line", "color": "black", "strokeWidth": 1.6, "clip": true},
     "encoding": {
       "x": {"field": "C", "type": "quantitative"},
       "y": {"field": "E", "type": "quantitative",
         "scale": {"domain": [-4.58, 4.58], "nice": false, "zero": false},
         "axis": {"values": [-4, -2, 0, 2, 4], "title": null, "domain": false, "ticks": false, "labelFont": "Liberation Serif", "labelFontSize": 14, "labelColor": "black", "labelPadding": 1, "labelExpr": "'' + datum.value", "gridColor": "#e2e2e2"}},
       "order": {"field": "E", "type": "quantitative"}}},
    {"transform": [{"filter": "datum.lab"}],
     "mark": {"type": "text", "align": "right", "baseline": "middle", "font": "Liberation Serif", "fontWeight": "bold", "fontSize": 15, "color": "black"},
     "encoding": {"x": {"field": "C", "type": "quantitative"}, "y": {"field": "E", "type": "quantitative"}, "text": {"field": "lab"}}},
    {"transform": [{"filter": "datum.lab"}],
     "mark": {"type": "point", "shape": "M-1,-0.06H1V0.06H-1Z", "filled": true, "color": "white", "opacity": 1, "size": 4489},
     "encoding": {"x": {"datum": 2.6, "type": "quantitative"}, "y": {"datum": 4.58, "type": "quantitative"}}},
    {"transform": [{"filter": "datum.ann"}],
     "mark": {"type": "point", "shape": "M-0.04,-0.14H1V0.14H-0.04Z", "filled": true, "color": "white", "opacity": 1, "size": 25600},
     "encoding": {"x": {"field": "C", "type": "quantitative"}, "y": {"field": "E", "type": "quantitative"}}},
    {"transform": [{"filter": "datum.ann"}],
     "mark": {"type": "text", "text": "←", "align": "left", "baseline": "middle", "font": "DejaVu Sans", "fontSize": 13, "color": "black"},
     "encoding": {"x": {"field": "C", "type": "quantitative"}, "y": {"field": "E", "type": "quantitative"}}},
    {"transform": [{"filter": "datum.ann"}],
     "mark": {"type": "text", "text": "h", "align": "left", "baseline": "middle", "font": "Lato", "fontSize": 17, "color": "black", "dx": 15},
     "encoding": {"x": {"field": "C", "type": "quantitative"}, "y": {"field": "E", "type": "quantitative"}}},
    {"transform": [{"filter": "datum.ann"}],
     "mark": {"type": "text", "text": "z", "align": "left", "baseline": "middle", "font": "Lato", "fontSize": 11, "color": "black", "dx": 24, "dy": 4},
     "encoding": {"x": {"field": "C", "type": "quantitative"}, "y": {"field": "E", "type": "quantitative"}}},
    {"transform": [{"filter": "datum.ann"}],
     "mark": {"type": "text", "align": "left", "baseline": "middle", "font": "Lato", "fontSize": 17, "color": "black", "dx": 32},
     "encoding": {"x": {"field": "C", "type": "quantitative"}, "y": {"field": "E", "type": "quantitative"}, "text": {"field": "ann"}}}
  ]
},
"config": {
  "view": {"stroke": "#999999", "strokeWidth": 1},
  "font": "Lato"
}
}
